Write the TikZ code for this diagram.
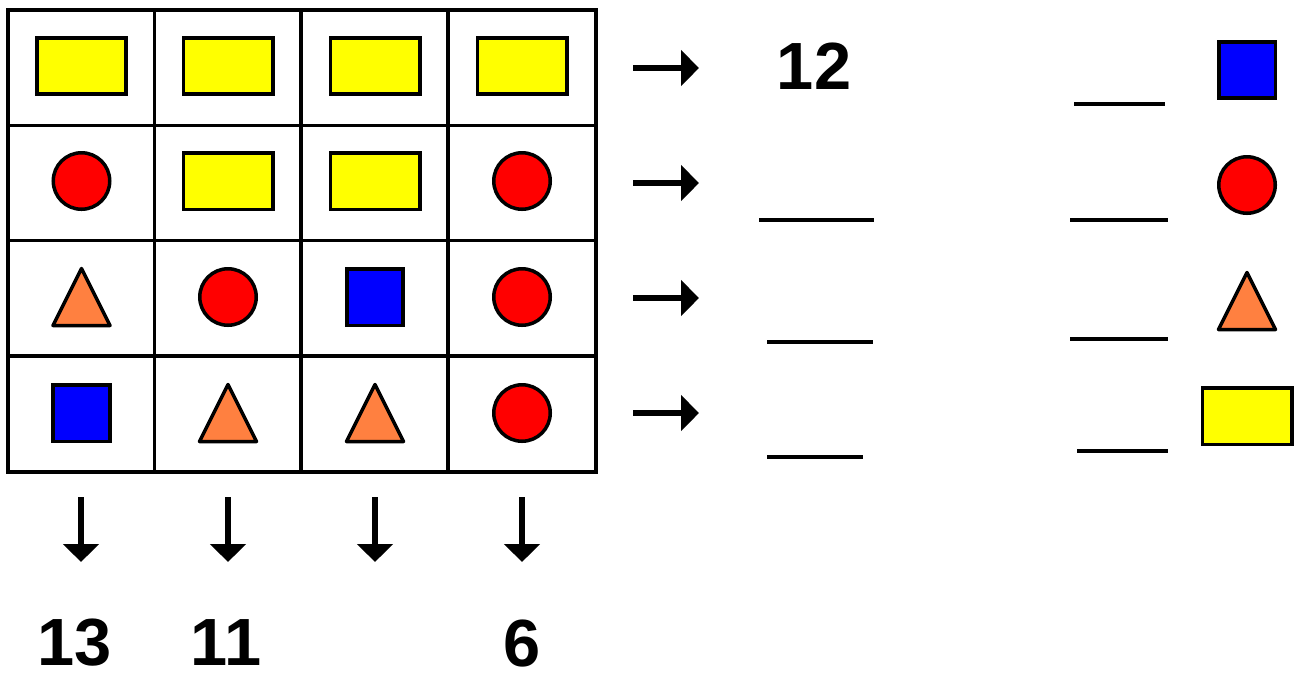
\documentclass[tikz,border=0pt]{standalone}
\usepackage{fontspec}
\setmainfont{Liberation Sans}
\usetikzlibrary{arrows.meta}

\definecolor{shapeyellow}{RGB}{255,255,0}
\definecolor{shapered}{RGB}{255,0,0}
\definecolor{shapeblue}{RGB}{0,0,255}
\definecolor{shapeorange}{RGB}{255,128,64}

\begin{document}
\begin{tikzpicture}[
  x=0.02cm, y=-0.02cm,
  gridline/.style={line width=2pt},
  shp/.style={draw, line width=2pt, inner sep=0pt},
  ybox/.style={shp, fill=shapeyellow, minimum width=1.79cm, minimum height=1.13cm},
  rdot/.style={shp, circle, fill=shapered, minimum size=1.13cm},
  bsq/.style={shp, fill=shapeblue, minimum size=1.13cm},
  otri/.pic={\draw[line width=2pt, fill=shapeorange, line join=round] (-28.5,28.5) -- (0,-28.5) -- (28.5,28.5) -- cycle;},
  arr/.style={-{Triangle[length=0.36cm,width=0.7cm]}, line width=3.4pt},
  blank/.style={line width=2pt},
  num/.style={font=\fontsize{38}{38}\selectfont\bfseries, inner sep=0pt}
]
\useasboundingbox (0,0) rectangle (1300,681);

% grid
\draw[gridline] (8,10) rectangle (596,472);
\draw[gridline] (154.5,10) -- (154.5,472) (301,10) -- (301,472) (448,10) -- (448,472);
\draw[gridline] (8,125.5) -- (596,125.5) (8,240.5) -- (596,240.5) (8,356) -- (596,356);

% row 1
\node[ybox] (s11) at (81.5,66) {};
\node[ybox] (s12) at (228,66) {};
\node[ybox] (s13) at (375,66) {};
\node[ybox] (s14) at (522,66) {};
% row 2
\node[rdot] (s21) at (81.5,181) {};
\node[ybox] (s22) at (228,181) {};
\node[ybox] (s23) at (375,181) {};
\node[rdot] (s24) at (522,181) {};
% row 3
\pic (s31) at (81.5,297) {otri};
\node[rdot] (s32) at (228,297) {};
\node[bsq] (s33) at (375,297) {};
\node[rdot] (s34) at (522,297) {};
% row 4
\node[bsq] (s41) at (81.5,413) {};
\pic (s42) at (228,413) {otri};
\pic (s43) at (375,413) {otri};
\node[rdot] (s44) at (522,413) {};

% row arrows
\coordinate (ra1) at (633,68);  \coordinate (rb1) at (699,68);
\coordinate (ra2) at (633,183); \coordinate (rb2) at (699,183);
\coordinate (ra3) at (633,298); \coordinate (rb3) at (699,298);
\coordinate (ra4) at (633,413); \coordinate (rb4) at (699,413);
\draw[arr] (ra1) -- (rb1); \draw[arr] (ra2) -- (rb2); \draw[arr] (ra3) -- (rb3); \draw[arr] (ra4) -- (rb4);

% column arrows
\coordinate (ca1) at (81,497);  \coordinate (cb1) at (81,562);
\coordinate (ca2) at (228,497); \coordinate (cb2) at (228,562);
\coordinate (ca3) at (375,497); \coordinate (cb3) at (375,562);
\coordinate (ca4) at (522,497); \coordinate (cb4) at (522,562);
\draw[arr] (ca1) -- (cb1); \draw[arr] (ca2) -- (cb2); \draw[arr] (ca3) -- (cb3); \draw[arr] (ca4) -- (cb4);

% sums
\node[num] (rsum1) at (814,66) {12};
\node[num] (csum1) at (75,643) {13};
\node[num] (csum2) at (226,643) {11};
\node[num] (csum4) at (522,643) {6};

% blanks
\draw[blank] (759,220) -- (874,220);
\draw[blank] (767,342) -- (873,342);
\draw[blank] (767,457) -- (863,457);
\draw[blank] (1074,104) -- (1165,104);
\draw[blank] (1070,220) -- (1168,220);
\draw[blank] (1070,339) -- (1168,339);
\draw[blank] (1077,451) -- (1168,451);

% key
\node[bsq] (kblue) at (1247,70) {};
\node[rdot] (kred) at (1247,185) {};
\pic (korange) at (1247,301) {otri};
\node[ybox] (kyellow) at (1247,416) {};
\end{tikzpicture}
\end{document}
